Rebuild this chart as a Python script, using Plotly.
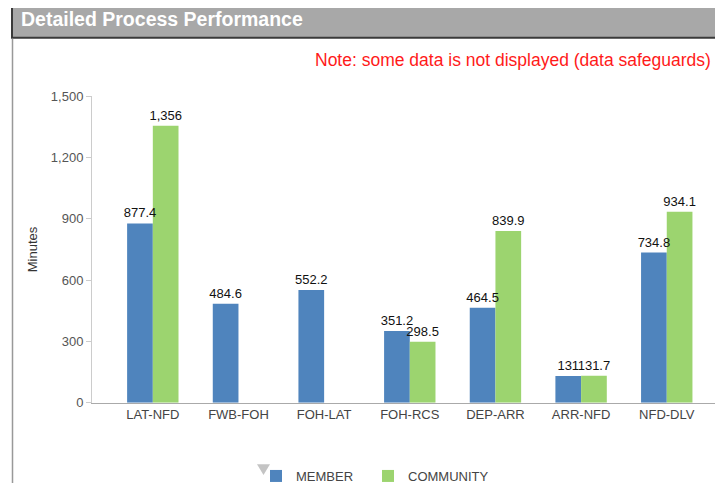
import plotly.graph_objects as go

W, H = 723, 483
OFF = 8  # browser default body margin shifts the figure by 8 px

categories = ["LAT-NFD", "FWB-FOH", "FOH-LAT", "FOH-RCS", "DEP-ARR", "ARR-NFD", "NFD-DLV"]
member = [877.4, 484.6, 552.2, 351.2, 464.5, 131, 734.8]
community = [1356, None, None, 298.5, 839.9, 131.7, 934.1]
y_ticks = [0, 300, 600, 900, 1200, 1500]

title_text = "Detailed Process Performance"
note_text = "Note: some data is not displayed (data safeguards)"
y_title = "Minutes"

FONT = "Liberation Sans, Arial, sans-serif"
BLUE = "#4F84BD"
GREEN = "#9CD46F"


def px(x):
    return (x - OFF) / W


def py(y):
    return 1 - (y - OFF) / H


fig = go.Figure()
series = [("MEMBER", member, BLUE, "m", "legend"), ("COMMUNITY", community, GREEN, "c", "legend2")]
for name, vals, col, grp, leg in series:
    fig.add_trace(go.Bar(
        x=categories, y=vals, name=name, offsetgroup=grp, legend=leg,
        marker=dict(color=col, line=dict(width=0)),
    ))
# value labels drawn on top of all bars
for name, vals, col, grp, leg in series:
    fig.add_trace(go.Bar(
        x=categories, y=vals, name=name, offsetgroup=grp, showlegend=False,
        marker=dict(color="rgba(0,0,0,0)", line=dict(width=0)),
        texttemplate="%{y:,}", textposition="outside",
        textfont=dict(family=FONT, size=13, color="#111"),
        constraintext="none", cliponaxis=False, textangle=0, hoverinfo="skip",
    ))

leg_common = dict(orientation="h", xanchor="left", yanchor="middle",
                  font=dict(family=FONT, size=13, color="#444"),
                  bgcolor="rgba(0,0,0,0)")

fig.update_layout(
    width=W, height=H,
    margin=dict(l=0, r=0, t=0, b=0),
    paper_bgcolor="white", plot_bgcolor="white",
    barmode="group", bargap=0.4, bargroupgap=0,
    font=dict(family=FONT, size=13, color="#444"),
    showlegend=True,
    legend=dict(x=px(256), y=py(480), **leg_common),
    legend2=dict(x=px(368), y=py(480), **leg_common),
    xaxis=dict(
        domain=[px(92), 1], range=[-0.71, 6.75], automargin=False,
        showline=True, linecolor="#aaa", linewidth=1,
        showgrid=False, ticks="", tickfont=dict(size=13, color="#444"),
        fixedrange=True,
    ),
    yaxis=dict(
        domain=[py(406), py(97)], range=[0, 1500], automargin=False,
        tickvals=y_ticks, tickformat=",", showgrid=False, zeroline=False,
        showline=True, linecolor="#ccc", linewidth=1,
        ticks="outside", ticklen=5, tickcolor="#ccc",
        tickfont=dict(size=13, color="#555"),
        title=dict(text=y_title, font=dict(size=13, color="#333"), standoff=10),
    ),
    shapes=[
        dict(type="rect", xref="paper", yref="paper", x0=px(12), x1=px(760),
             y0=py(38), y1=py(7), fillcolor="#A8A8A8",
             line=dict(color="#3a3a3a", width=2), layer="below"),
        dict(type="line", xref="paper", yref="paper", x0=px(12.5), x1=px(12.5),
             y0=py(39), y1=0, line=dict(color="#999", width=1.5)),
        dict(type="path", xref="paper", yref="paper",
             path=f"M {px(257)} {py(468)} L {px(270)} {py(468)} L {px(263.5)} {py(479)} Z",
             fillcolor="#c4c4c4", line=dict(width=0)),
    ],
    annotations=[
        dict(text=f"<b>{title_text}</b>", xref="paper", yref="paper",
             x=px(19), y=py(19), xanchor="left", yanchor="middle", showarrow=False,
             font=dict(family=FONT, size=19.5, color="white")),
        dict(text=note_text, xref="paper", yref="paper",
             x=px(313), y=py(60), xanchor="left", yanchor="middle", showarrow=False,
             font=dict(family=FONT, size=17.5, color="#FF1A1A")),
    ],
)

fig.write_html("out.html")
